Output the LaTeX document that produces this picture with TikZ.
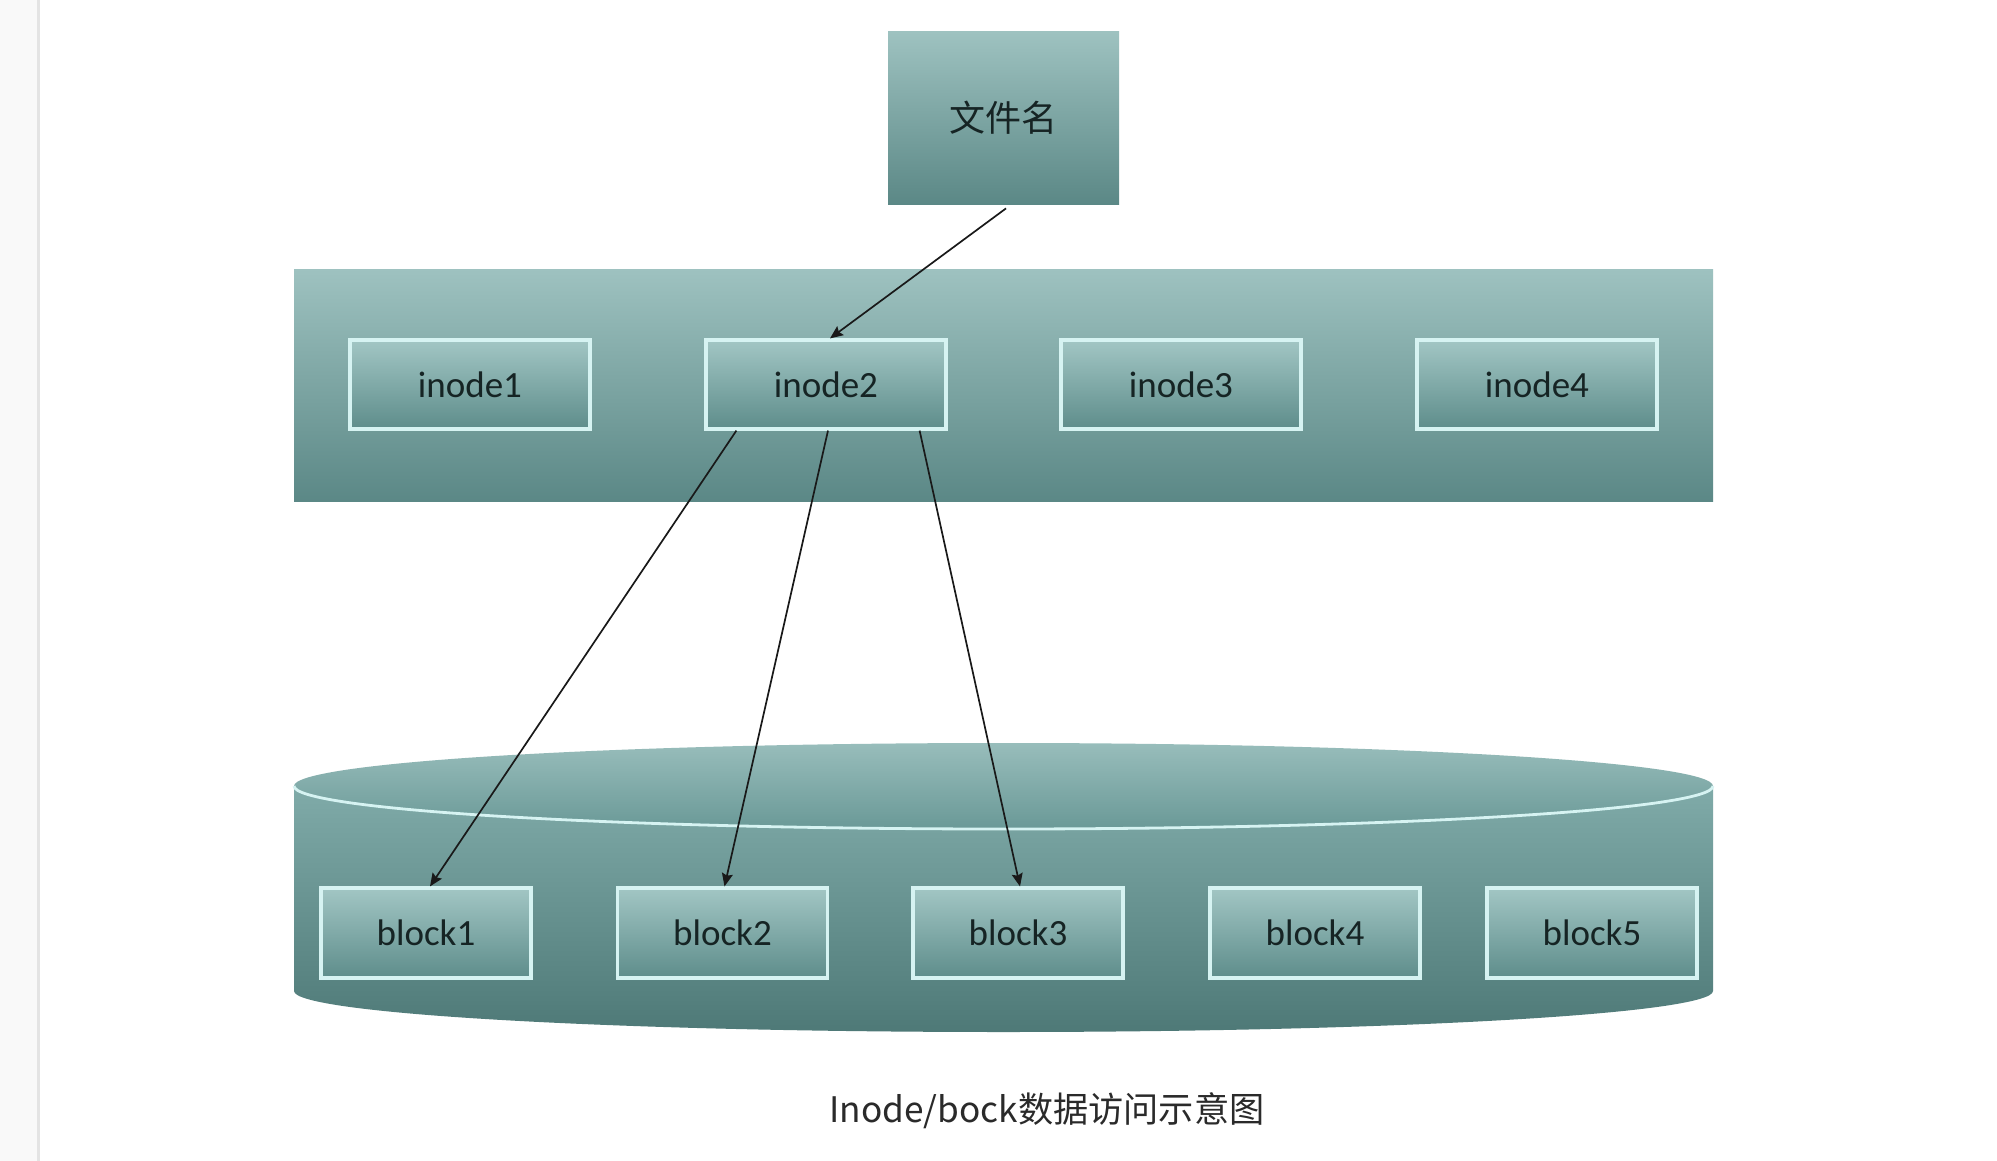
\documentclass[tikz,border=0pt]{standalone}
\usepackage{fontspec}
\newfontfamily\cjk{Noto Sans CJK SC}
\newfontfamily\lab{Carlito}
\usetikzlibrary{calc,arrows.meta}
\definecolor{bandT}{HTML}{9EC2C0}
\definecolor{bandB}{HTML}{5B8886}
\definecolor{boxT}{HTML}{A2C6C4}
\definecolor{boxB}{HTML}{5E8D8B}
\definecolor{edgeL}{HTML}{D6F3F2}
\definecolor{txt}{HTML}{162424}
\definecolor{capT}{HTML}{98BDBB}
\definecolor{capB}{HTML}{6A9997}
\definecolor{sideT}{HTML}{80ABA9}
\definecolor{sideB}{HTML}{4E7977}
\definecolor{stripgray}{HTML}{F9F9F9}
\definecolor{linegray}{HTML}{E4E4E4}
\definecolor{captxt}{HTML}{2A2A2A}
\begin{document}
\begin{tikzpicture}[x=0.5pt,y=-0.5pt,
  lbl/.style={text=txt, font=\lab\fontsize{18.5}{20}\selectfont},
  inodebox/.style={rectangle, draw=edgeL, line width=1.6pt, top color=boxT, bottom color=boxB,
    minimum width=120pt, minimum height=44.5pt, inner sep=0pt, lbl},
  blockbox/.style={rectangle, draw=edgeL, line width=1.6pt, top color=boxT, bottom color=boxB,
    minimum width=105pt, minimum height=45pt, inner sep=0pt, lbl},
  arr/.style={draw=black!90, line width=0.85pt, -{Stealth[length=6.5pt,width=5.5pt,inset=1pt]}}
]
\useasboundingbox (0,0) rectangle (1997,1161);
\fill[white] (0,0) rectangle (1997,1161);
\fill[stripgray] (0,0) rectangle (37,1161);
\fill[linegray] (37,0) rectangle (39.5,1161);

% upper band
\shade[top color=bandT, bottom color=bandB] (294,269) rectangle (1713,501);

% cylinder
\shade[top color=sideT, bottom color=sideB]
  (294,786) -- (294,991) arc[start angle=180, end angle=0, x radius=709.5, y radius=41]
  -- (1713,786) arc[start angle=0, end angle=180, x radius=709.5, y radius=43] -- cycle;
\shade[top color=capT, bottom color=capB] (1003.5,786) ellipse [x radius=709.5, y radius=43];
\draw[edgeL, line width=1.4pt] (1713,786) arc[start angle=0, end angle=180, x radius=709.5, y radius=43];

% file name box
\node[rectangle, top color=bandT, bottom color=bandB, minimum width=115.5pt, minimum height=86pt,
  inner sep=0pt, text=txt, font=\cjk\fontsize{18}{20}\selectfont] (file) at (1003.5,118) {文件名};

% inodes
\node[inodebox] (inode1) at (470,384.5) {inode1};
\node[inodebox] (inode2) at (826,384.5) {inode2};
\node[inodebox] (inode3) at (1181,384.5) {inode3};
\node[inodebox] (inode4) at (1537,384.5) {inode4};

% blocks
\node[blockbox] (block1) at (426,933) {block1};
\node[blockbox] (block2) at (722.5,933) {block2};
\node[blockbox] (block3) at (1018,933) {block3};
\node[blockbox] (block4) at (1315,933) {block4};
\node[blockbox] (block5) at (1592,933) {block5};

% arrows
\draw[arr] ($(file.south)+(2.5,4)$) -- ($(inode2.north)+(4,0)$);
\draw[arr] ($(inode2.south west)+(32,0)$) -- ($(block1.north)+(4,0)$);
\draw[arr] ($(inode2.south)+(2,0)$) -- ($(block2.north)+(2,0)$);
\draw[arr] ($(inode2.south east)+(-28,0)$) -- ($(block3.north)+(2,0)$);

% caption
\node[text=captxt, font=\cjk\fontsize{17.6}{20}\selectfont] (cap) at (1047,1111) {Inode/bock数据访问示意图};
\end{tikzpicture}
\end{document}
